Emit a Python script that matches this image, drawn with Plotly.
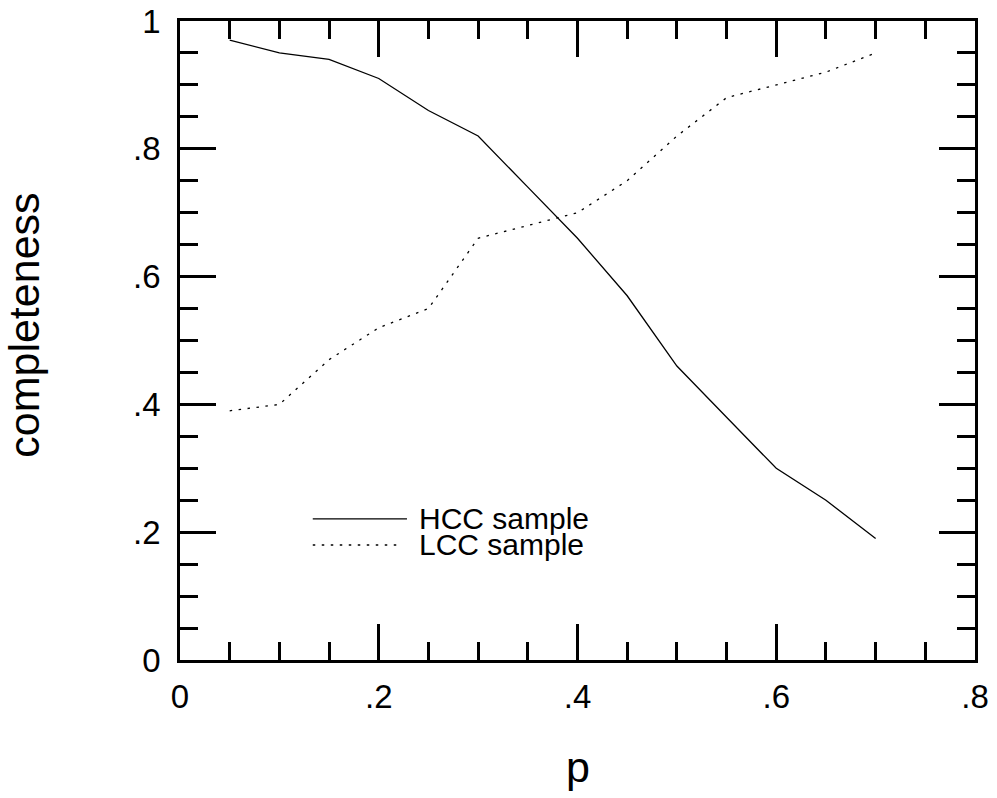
import plotly.graph_objects as go

p_vals = [0.05, 0.10, 0.15, 0.20, 0.25, 0.30, 0.35, 0.40, 0.45, 0.50, 0.55, 0.60, 0.65, 0.70]
hcc = [0.97, 0.95, 0.94, 0.91, 0.86, 0.82, 0.74, 0.66, 0.57, 0.46, 0.38, 0.30, 0.25, 0.19]
lcc = [0.39, 0.40, 0.47, 0.52, 0.55, 0.66, 0.68, 0.70, 0.75, 0.82, 0.88, 0.90, 0.92, 0.95]

x_tickvals = [0, 0.2, 0.4, 0.6, 0.8]
x_ticktext = ["0", ".2", ".4", ".6", ".8"]
y_tickvals = [0, 0.2, 0.4, 0.6, 0.8, 1.0]
y_ticktext = ["0", ".2", ".4", ".6", ".8", "1"]

legend_names = ["HCC sample", "LCC sample"]

FONT = "Liberation Sans, Arial, sans-serif"

fig = go.Figure()
fig.add_trace(go.Scatter(x=p_vals, y=hcc, mode="lines", name=legend_names[0],
                         line=dict(color="black", width=1.3), showlegend=False))
fig.add_trace(go.Scatter(x=p_vals, y=lcc, mode="lines", name=legend_names[1],
                         line=dict(color="black", width=1.3, dash="2.5px,6.5px"), showlegend=False))

axis_common = dict(
    showgrid=False, zeroline=False, showline=True, linecolor="black", linewidth=2.5,
    mirror="allticks", ticks="inside", ticklen=36, tickwidth=2.5, tickcolor="black",
    tickfont=dict(family=FONT, size=33, color="black"), automargin=False,
    minor=dict(ticks="inside", ticklen=18, tickwidth=2.5, tickcolor="black", dtick=0.05, showgrid=False),
)

fig.update_xaxes(range=[0, 0.8], tickmode="array", tickvals=x_tickvals, ticktext=x_ticktext,
                 ticklabelstandoff=6, **axis_common)
fig.update_yaxes(range=[0, 1.0], tickmode="array", tickvals=y_tickvals, ticktext=y_ticktext,
                 ticklabelstandoff=10, **axis_common)

# legend drawn manually
fig.add_shape(type="line", xref="paper", yref="paper", x0=0.167, x1=0.2855, y0=0.2207, y1=0.2207,
              line=dict(color="black", width=1.3))
fig.add_shape(type="line", xref="paper", yref="paper", x0=0.167, x1=0.279, y0=0.18, y1=0.18,
              line=dict(color="black", width=1.3, dash="2.5px,6.5px"))
fig.add_annotation(xref="paper", yref="paper", x=0.2975, y=0.2207, xanchor="left", yanchor="middle",
                   text=legend_names[0], showarrow=False, font=dict(family=FONT, size=30, color="black"))
fig.add_annotation(xref="paper", yref="paper", x=0.2975, y=0.18, xanchor="left", yanchor="middle",
                   text=legend_names[1], showarrow=False, font=dict(family=FONT, size=30, color="black"))

# axis titles
fig.add_annotation(xref="paper", yref="paper", x=0.5, y=-0.168, xanchor="center", yanchor="middle",
                   text="p", showarrow=False, font=dict(family=FONT, size=43, color="black"))
fig.add_annotation(xref="paper", yref="paper", x=-0.1955, y=0.524, xanchor="center", yanchor="middle",
                   text="completeness", textangle=-90, showarrow=False,
                   font=dict(family=FONT, size=43, color="black"))

fig.update_layout(
    width=997, height=798,
    margin=dict(l=180, r=22, t=21, b=138),
    paper_bgcolor="white", plot_bgcolor="white",
    showlegend=False,
)

fig.write_html("out.html")
